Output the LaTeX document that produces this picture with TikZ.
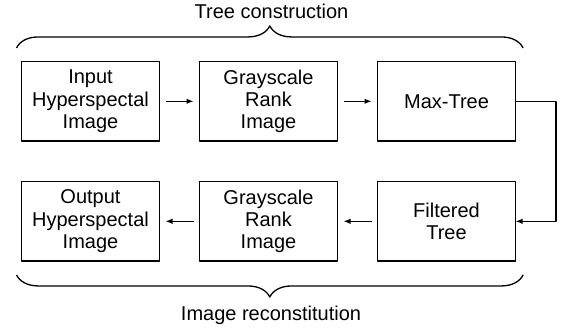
\documentclass[tikz,border=0pt]{standalone}
\usepackage{fontspec}
\setmainfont{Liberation Sans}
\usetikzlibrary{positioning}
\usetikzlibrary{calc}
\usetikzlibrary{arrows.meta, positioning, decorations.pathreplacing}

\tikzset{
  stage/.style={draw, line width=1.3pt, minimum width=138pt, minimum height=79.3pt,
    align=center, inner sep=0pt, outer sep=0pt, font=\fontsize{20}{22.3}\selectfont},
  flow/.style={-{Latex[length=7pt,width=5.5pt]}, line width=1.3pt},
  curly/.style={decorate, decoration={brace, amplitude=22pt}, line width=1.3pt},
  caption/.style={anchor=base, font=\fontsize{20}{24}\selectfont}
}

\begin{document}
\begin{tikzpicture}[x=1pt, y=1pt, line join=round]
            \useasboundingbox (0,0) rectangle (561,330);

            % tree construction row
            \node[stage] (input) at (90.5,228.7) {Input\\Hyperspectal\\Image};
            \node[stage, right=40pt of input] (rankin) {Grayscale\\Rank\\Image};
            \node[stage, right=40pt of rankin] (maxtree) {Max-Tree};

            % reconstitution row
            \node[stage, below=40.7pt of maxtree] (filtered) {Filtered\\Tree};
            \node[stage, left=40pt of filtered] (rankout) {Grayscale\\Rank\\Image};
            \node[stage, left=40pt of rankout] (output) {Output\\Hyperspectal\\Image};

            % arrows between stages
            \draw[flow, shorten <=6pt, shorten >=6pt] (input) -- (rankin);
            \draw[flow, shorten <=6pt, shorten >=6pt] (rankin) -- (maxtree);
            \draw[flow, shorten <=6pt, shorten >=6pt] (filtered) -- (rankout);
            \draw[flow, shorten <=6pt, shorten >=6pt] (rankout) -- (output);

            % loop down from max-tree to filtered tree
            \coordinate (turn) at ($(maxtree.east)+(40.5,0)$);
            \draw[flow] (maxtree.east) -- (turn) |- (filtered.east);

            % braces and captions
            \draw[curly] ($(input.north west)+(-5,13.7)$) -- ($(maxtree.north east)+(7.6,13.7)$);
            \node[caption] (topcap) at (271.5,311) {Tree construction};
            \draw[curly] ($(filtered.south east)+(7.6,-14)$) -- ($(output.south west)+(-5,-14)$);
            \node[caption] (botcap) at (271,10) {Image reconstitution};
        \end{tikzpicture}
\end{document}
